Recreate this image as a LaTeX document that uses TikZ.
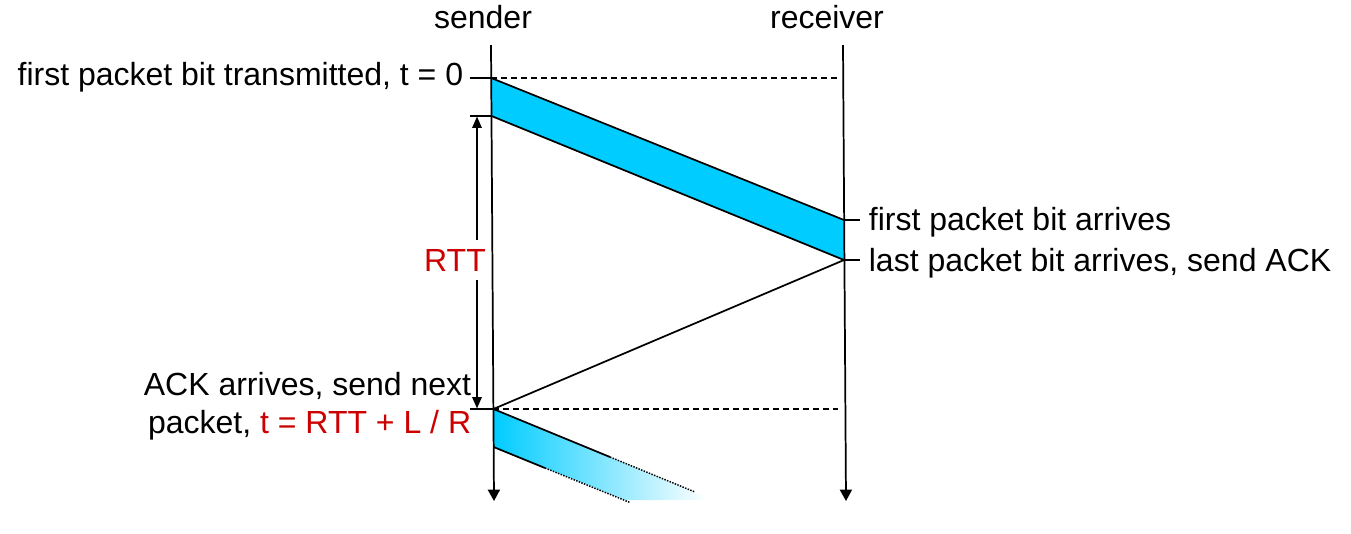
\documentclass[tikz,border=0pt]{standalone}
\usepackage{fontspec}
\setmainfont{Liberation Sans}
\usetikzlibrary{arrows.meta, positioning}
\definecolor{myc}{RGB}{0, 204, 255}
\definecolor{myr}{RGB}{204, 0, 0}
\begin{document}
\begin{tikzpicture}[x=0.75pt, y=-0.75pt, font=\fontsize{24}{29}\selectfont, line width=1.3pt,
        txt/.style={inner sep=0pt},
        dsh/.style={dash pattern=on 4.5pt off 3pt},
        tline/.style={-{Triangle[length=8.5pt, width=9pt]}},
        rtt/.style={-{Triangle[length=8.5pt, width=7pt]}}]
    \useasboundingbox (0,0) rectangle (1351,533);
    \node[txt, anchor=base] (snd) at (483,28) {sender};
    \node[txt, anchor=base] (rcv) at (827,28) {receiver};
    \coordinate (s0) at (491,45);
    \coordinate (s1) at (494,501);
    \coordinate (r0) at (843,45);
    \coordinate (r1) at (846,501);
    \coordinate (p1a) at (491.2,78);
    \coordinate (p1b) at (844,220);
    \coordinate (p1c) at (844,260);
    \coordinate (p1d) at (491.5,116);
    \coordinate (p2a) at (493.4,409);
    \coordinate (p2d) at (493.6,447);
    \fill[myc] (p1a) -- (p1b) -- (p1c) -- (p1d) -- cycle;
    \draw (p1a) -- (p1b) (p1d) -- (p1c);
    \shade[left color=myc, right color=white] (p2a) -- (707,497) -- (707,500) -- (625,500) -- (p2d) -- cycle;
    \draw (p2a) -- (610,457);
    \draw[densely dotted, line width=1.1pt] (610,457) -- (695,492);
    \draw (p2d) -- (545,468);
    \draw[densely dotted, line width=1.1pt] (545,468) -- (630,502.5);
    \draw (p1c) -- (p2a);
    \draw[dsh] (p1a) -- (838,78);
    \draw[dsh] (p2a) -- (838,409);
    \draw[tline] (s0) -- (s1);
    \draw[tline] (r0) -- (r1);
    \draw (470,78) -- (p1a);
    \draw (470,116) -- (p1d);
    \draw (470,409) -- (p2a);
    \draw (p1b) -- (860,220);
    \draw (p1c) -- (860,260);
    \node[txt, anchor=base east] (tx0) at (464,85) {first packet bit transmitted, t = 0};
    \node[txt, anchor=base west] (fba) at (868,230) {first packet bit arrives};
    \node[txt, anchor=base west] (lba) at (868,271) {last packet bit arrives, send ACK};
    \node[txt, anchor=base, text=myr] (rttl) at (455,271) {RTT};
    \draw[rtt] (477,240) -- (477,116.5);
    \draw[rtt] (477,280) -- (477,408.5);
    \node[txt, anchor=base east] (ack1) at (472,395) {ACK arrives, send next};
    \node[txt, anchor=base east] (ack2) at (472,433) {packet, \textcolor{myr}{t = RTT + L / R}};
\end{tikzpicture}
\end{document}
